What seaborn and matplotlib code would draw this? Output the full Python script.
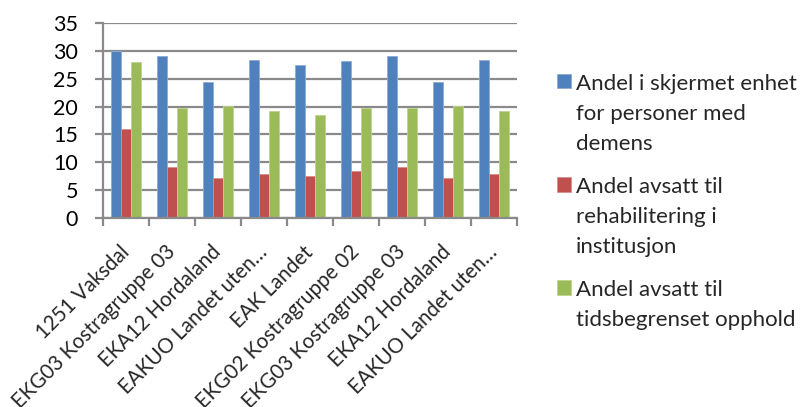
import matplotlib
matplotlib.use("Agg")
import matplotlib.pyplot as plt
import matplotlib.transforms as mtransforms
import matplotlib.colors as mcolors
import seaborn as sns
import pandas as pd
import numpy as np

categories = ["1251 Vaksdal", "EKG03 Kostragruppe 03", "EKA12 Hordaland",
              "EAKUO Landet uten…", "EAK Landet", "EKG02 Kostragruppe 02",
              "EKG03 Kostragruppe 03 ", "EKA12 Hordaland ", "EAKUO Landet uten… "]
tick_labels = ["1251 Vaksdal", "EKG03 Kostragruppe 03", "EKA12 Hordaland",
               "EAKUO Landet uten…", "EAK Landet", "EKG02 Kostragruppe 02",
               "EKG03 Kostragruppe 03", "EKA12 Hordaland", "EAKUO Landet uten…"]
series_names = ["Andel i skjermet enhet\nfor personer med\ndemens",
                "Andel avsatt til\nrehabilitering i\ninstitusjon",
                "Andel avsatt til\ntidsbegrenset opphold"]
skjermet = [30.0, 29.1, 24.4, 28.4, 27.5, 28.1, 29.1, 24.4, 28.4]
rehab = [16.0, 9.1, 7.2, 7.9, 7.5, 8.5, 9.1, 7.2, 7.9]
tidsbegrenset = [28.0, 19.7, 20.1, 19.2, 18.5, 19.7, 19.7, 20.1, 19.2]
colors = ["#4F81BD", "#C0504D", "#9BBB59"]

df = pd.DataFrame({
    "kategori": categories * 3,
    "serie": [series_names[0]] * 9 + [series_names[1]] * 9 + [series_names[2]] * 9,
    "verdi": skjermet + rehab + tidsbegrenset,
})

sns.set_style("white")
plt.rcParams["font.family"] = ["Lato", "DejaVu Sans"]

fig = plt.figure(figsize=(8, 4.07), dpi=100)
ax = fig.add_axes([103 / 800, 1 - 218.3 / 407, 414 / 800, (218.3 - 22.7) / 407])

sns.barplot(data=df, x="kategori", y="verdi", hue="serie", order=categories,
            hue_order=series_names, palette=colors, width=0.66, gap=0,
            saturation=1, errorbar=None, ax=ax, legend=True)

for p in ax.patches:
    fc = np.array(mcolors.to_rgb(p.get_facecolor()))
    p.set_edgecolor(tuple(fc + (1 - fc) * 0.35))
    p.set_linewidth(0.6)

ax.set_ylim(0, 35)
ax.set_xlim(-0.5, len(categories) - 0.5)
ax.set_yticks(np.arange(0, 36, 5))
ax.yaxis.grid(True, color="#8a8a8a", linewidth=1.6)
ax.set_axisbelow(True)
for s in ["top", "right"]:
    ax.spines[s].set_visible(False)
ax.spines["left"].set_color("#8a8a8a")
ax.spines["bottom"].set_color("#8a8a8a")
ax.spines["left"].set_linewidth(1.6)
ax.spines["bottom"].set_linewidth(1.6)
ax.set_xlabel("")
ax.set_ylabel("")

ax.tick_params(axis="y", which="major", length=6, width=1.6, color="#8a8a8a",
               labelsize=15.5, pad=12, left=True, labelcolor="black")
ax.set_xticks(np.arange(len(categories)))
ax.set_xticks(np.arange(-0.5, len(categories)), minor=True)
ax.tick_params(axis="x", which="major", length=0, pad=17, labelsize=14.8)
ax.tick_params(axis="x", which="minor", length=6, width=1.6, color="#8a8a8a", bottom=True)
ax.set_xticklabels(tick_labels, rotation=45, ha="right", va="top",
                   rotation_mode="anchor")
offset = mtransforms.ScaledTranslation(-7 / 100, 0, fig.dpi_scale_trans)
for lbl in ax.get_xticklabels():
    lbl.set_transform(lbl.get_transform() + offset)

handles, labels = ax.get_legend_handles_labels()
ax.get_legend().remove()
leg = fig.legend(handles, labels, loc="upper left", bbox_to_anchor=(557 / 800, 1 - 74 / 407),
                 frameon=False, fontsize=16, handlelength=0.62, handleheight=0.62,
                 handletextpad=0.22, labelspacing=1.05, borderpad=0, borderaxespad=0)
for t in leg.get_texts():
    t.set_linespacing(1.62)
for col in leg._legend_handle_box.get_children():
    for item in col.get_children():
        item.align = "top"

fig.savefig("out.png", dpi=100)
